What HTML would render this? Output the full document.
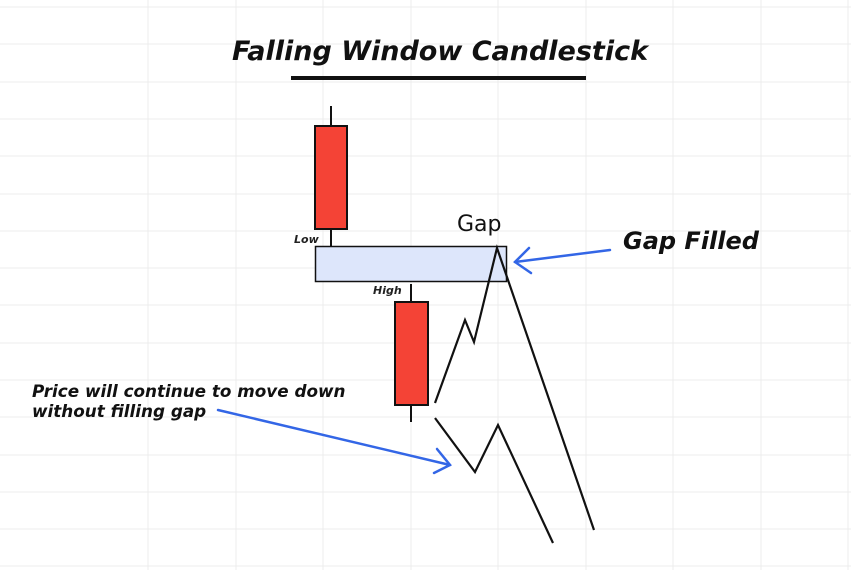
<!DOCTYPE html>
<html><head><style>
body{margin:0;background:#fff;}
svg{display:block;}
text{font-family:"DejaVu Sans","Liberation Sans",sans-serif;}
</style></head><body>
<svg width="851" height="570" viewBox="0 0 851 570" xmlns="http://www.w3.org/2000/svg">
<g stroke="#ececec" stroke-width="1">
<line x1="0" y1="7" x2="851" y2="7"/><line x1="0" y1="44" x2="851" y2="44"/><line x1="0" y1="82" x2="851" y2="82"/><line x1="0" y1="119" x2="851" y2="119"/><line x1="0" y1="156" x2="851" y2="156"/><line x1="0" y1="194" x2="851" y2="194"/><line x1="0" y1="231" x2="851" y2="231"/><line x1="0" y1="268" x2="851" y2="268"/><line x1="0" y1="305" x2="851" y2="305"/><line x1="0" y1="343" x2="851" y2="343"/><line x1="0" y1="380" x2="851" y2="380"/><line x1="0" y1="417" x2="851" y2="417"/><line x1="0" y1="455" x2="851" y2="455"/><line x1="0" y1="492" x2="851" y2="492"/><line x1="0" y1="529" x2="851" y2="529"/><line x1="0" y1="566" x2="851" y2="566"/>
<line x1="148" y1="0" x2="148" y2="570"/><line x1="236" y1="0" x2="236" y2="570"/><line x1="323" y1="0" x2="323" y2="570"/><line x1="411" y1="0" x2="411" y2="570"/><line x1="498" y1="0" x2="498" y2="570"/><line x1="586" y1="0" x2="586" y2="570"/><line x1="673" y1="0" x2="673" y2="570"/><line x1="761" y1="0" x2="761" y2="570"/><line x1="848" y1="0" x2="848" y2="570"/>
</g>
<text x="440" y="60" text-anchor="middle" font-size="27" font-style="italic" font-weight="bold" fill="#111">Falling Window Candlestick</text>
<line x1="291" y1="78" x2="586" y2="78" stroke="#111" stroke-width="4"/>
<g stroke="#111" stroke-width="2">
<line x1="331" y1="106" x2="331" y2="246"/>
<rect x="315" y="126" width="32" height="103" fill="#f44336"/>
<line x1="411" y1="284" x2="411" y2="422"/>
<rect x="395" y="302" width="33" height="103" fill="#f44336"/>
</g>
<rect x="315.5" y="246.5" width="191" height="35" fill="#dde6fb" stroke="#111" stroke-width="1.5"/>
<g fill="none" stroke="#111" stroke-width="2.2">
<polyline points="435,403 465,320 474,342 497,248 594,530"/>
<polyline points="435,418 475,472 498,425 553,543"/>
</g>
<g fill="none" stroke="#3366e6" stroke-width="2.5" stroke-linecap="round">
<line x1="610" y1="250" x2="515" y2="262"/>
<polyline points="529,248 515,262 531,273"/>
<line x1="218" y1="410" x2="450" y2="465"/>
<polyline points="437,449 450,465 434,473"/>
</g>
<text x="294" y="243" font-size="11" font-style="italic" font-weight="bold" fill="#222">Low</text>
<text x="373" y="294" font-size="11" font-style="italic" font-weight="bold" fill="#222">High</text>
<text x="457" y="231" font-size="22" fill="#111">Gap</text>
<text x="623" y="249" font-size="24" font-style="italic" font-weight="bold" fill="#111">Gap Filled</text>
<text x="32" y="397" font-size="16.8" font-style="italic" font-weight="bold" fill="#111">Price will continue to move down</text>
<text x="32" y="417" font-size="16.8" font-style="italic" font-weight="bold" fill="#111">without filling gap</text>
</svg>
</body></html>
